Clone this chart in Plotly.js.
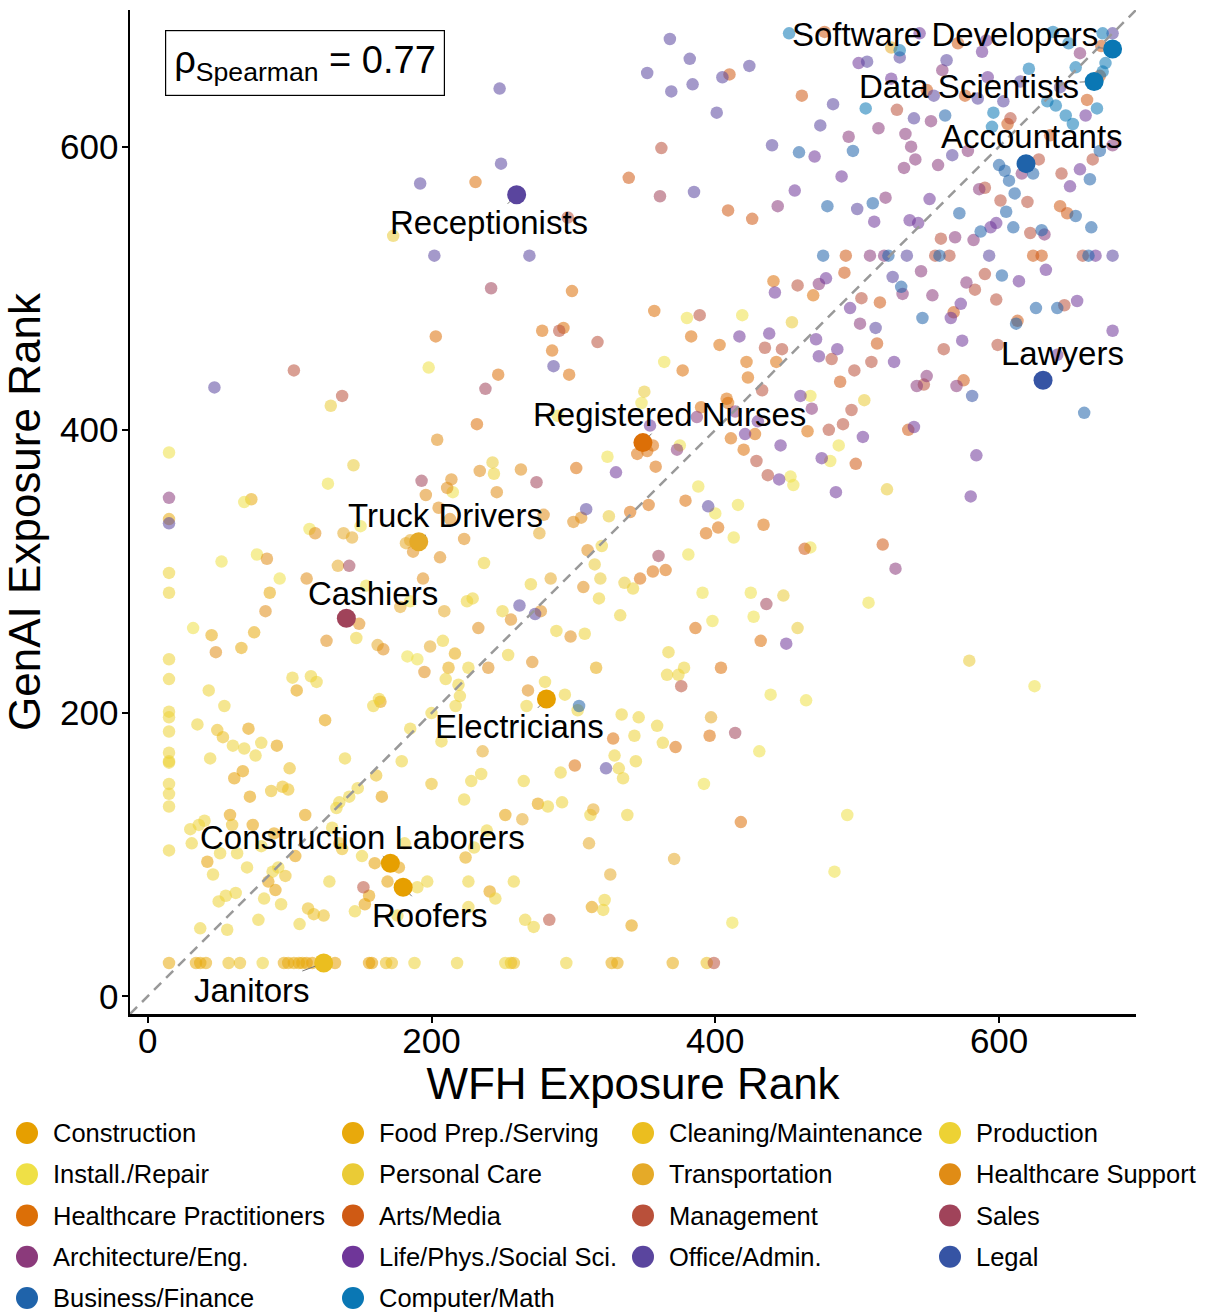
<!DOCTYPE html>
<html><head><meta charset="utf-8">
<script src="https://cdn.plot.ly/plotly-3.0.1.min.js"></script>
<style>html,body{margin:0;padding:0;background:#fff;} #chart{width:1207px;height:1313px;}</style>
</head><body><div id="chart"></div>
<script>
// ---------- categories (legend order) ----------
const categories = ["Construction","Food Prep./Serving","Cleaning/Maintenance","Production",
  "Install./Repair","Personal Care","Transportation","Healthcare Support",
  "Healthcare Practitioners","Arts/Media","Management","Sales",
  "Architecture/Eng.","Life/Phys./Social Sci.","Office/Admin.","Legal",
  "Business/Finance","Computer/Math"];
const categoryColors = ["#E69F00","#E8A90C","#EBBE1F","#EDD234",
  "#EFE046","#EACB36","#E5AA28","#E08C15",
  "#DC6F07","#CF5A14","#B9503A","#A0435A",
  "#8B3A7B","#6F3699","#5A459E","#3654A4",
  "#1F63AA","#0A77B4"];

// ---------- points per category: [WFH rank, GenAI rank] ----------
const construction = [[105,216],[164,208],[71,189],[125,195],[91,177],[61,154],[67,159],[165,141],[72,141],[111,128],[58,128],[74,121],[89,115],[104,99],[42,95],[85,81],[90,75],[160,94],[177,91],[169,81],[156,71],[153,65],[275,136],[252,128],[241,74],[313,63],[341,50],[112,23.5],[116,23.5],[132,23.5],[156,23.5],[158,23.5]];
const foodPrep = [[15,23.5],[34,23.5],[37,23.5],[41,23.5],[96,23.5],[99,23.5],[103,23.5],[106.5,23.5],[109,23.5],[327,23.5],[331,23.5],[370,23.5],[15,337],[73,351],[86,285],[45,255],[75,257],[66,246],[216.5,242],[212,232],[316,232],[224,98]];
const cleaning = [[57,23.5],[65,23.5],[168,23.5],[172,23.5],[256,23.5],[258,23.5],[394,23.5],[49,188],[53,183],[100,161],[161,156],[200,150],[87,145],[95,148],[99,146],[59.5,121],[135,108],[137,104],[97,85],[113,62],[117,58],[124,57]];
const production = [[244,369],[320,318],[237,306],[342,288],[270,291],[318,281],[229,281],[225,279],[250,272],[288,258],[308,256],[333,269],[367,243],[378,232],[366,227],[374,227],[254,241],[226,232],[280,222],[267,205],[294,213],[303,202],[334,199],[346,197],[359,191],[343,184],[363,179],[329,170],[344,166],[332,161],[335,154],[291,158],[265,152],[228,152],[235,157],[223,139],[282,134],[292,137],[312,128],[338,128],[239,117],[230,105],[226,81],[258,81],[245,69],[226,63],[322,68],[321,61],[266,54],[272,49],[252,23.5],[295,23.5],[15,201],[15,197],[15,187],[15,172],[15,166],[15,165],[15,150],[15,143],[15,134],[15,103],[15,224],[15,299],[15,285],[15,238],[43,216],[54,205],[102,225],[115,226],[119,222],[159,205],[163,210],[35,192],[60,177],[68,175],[76,170],[80,179],[44,168],[139,168],[185,189],[207,180],[200,200],[217,205],[220,212],[219,220],[179,166],[148,147],[142,141],[135,137],[133,133],[40,124],[36,121],[30,118],[31,108],[130,119],[51,101],[63,101],[80,106],[70,91],[46,86],[88,88],[92,91],[50,67],[55,71],[62,73],[82,69],[94,65],[37,48],[56,47],[78,54],[107,51],[128,81],[151,99],[190,77],[197,81],[146,60],[176,57],[181,108],[147,253],[208,251],[210,224],[81,23.5],[188,23.5],[218,23.5]];
const installRepair = [[380,479],[419,481],[467,424],[487,389],[481,378],[467,317],[508,278],[625,219],[464,209],[493,128],[484,88],[364,448],[348,419],[289,410],[375,389],[453,367],[455,361],[324,381],[388,360],[400,341],[416,347],[413,324],[381,312],[391,285],[398,265],[425,285],[427,268],[439,213],[431,173],[392,150],[412,52],[15,384],[198,444],[127,362],[215,356],[68,349],[114,330],[150,332],[52,307],[77,312],[93,295],[154,290],[185,279],[32,260],[183,240],[190,238]];
const personalCare = [[173,537],[454,476],[505,421],[521,358],[458,260],[579,237],[350,427],[243,377],[325,339],[315,305],[336,292],[319,295],[448,283],[129,417],[145,375]];
const transportation = [[524,670],[276,327],[284,295],[397,197],[236,173],[314,132],[264,125],[311,108],[371,97],[326,86],[138,327],[144,324],[182,320],[185,322],[134,304],[178,275],[209,272],[162,248],[199,247]];
const healthcareSupport = [[234,371],[263,372],[246,356],[300,335],[305.5,338],[279,340],[223,323],[310,315],[307,289],[204,393],[214,365],[211,359],[196,354],[205,345],[213,337],[187,314],[206,310],[194,295],[277,272],[256,266],[233,260],[298,254],[271,236],[240,232],[268,216],[118,327],[84,309],[83,272],[112,295],[149,263],[126,251],[48,243],[166,245],[195,229]];
const healthcarePract = [[203,466],[231,575],[299,498],[357,484],[441,505],[278,470],[293,472],[383,466],[403,460],[285,456],[469,495],[465,399],[297,439],[247,439],[232,404],[377,442],[422,448],[443,448],[423,437],[408,422],[409,419],[390,416],[345,383],[352,385],[356,389],[428,397],[411,394],[420,386],[358,374],[302,373],[379,350],[353,347],[340,342],[393.5,327],[402,331],[434,333],[356,300],[365,301],[347,295],[386,260],[432,251],[404,232],[328,182],[372,176],[396,184],[301,163],[418,123]];
const artsMedia = [[410,651],[461,636],[477,681],[571,673],[672,671],[671,650],[549,640],[576,636],[662,633],[606,616],[636,608],[643,558],[648,553],[492,523],[624,523],[630,523],[491,511],[516,490],[568,483],[613,477],[514,461],[339,578],[409,555],[426,549],[488,434],[575,435],[536,400],[499,376],[518,319],[463,316]];
const management = [[362,599],[296,550],[389,481],[458,502],[290,470],[317,462],[435,458],[447,457],[528,626],[608,620],[628,591],[666,591],[644,581],[590,571],[601,562],[620,561],[559,535],[622,539],[555,523],[565,523],[659,523],[590,510],[583,499],[503,493],[598,492],[646,488],[599,460],[561,457],[482,450],[510,448],[498,442],[547,432],[496,414],[490,404],[480,400],[433,428],[429,378],[437,368],[376,219],[283,54],[399,23.5],[152,77],[103,442],[137,424]];
const sales = [[361,565],[242,500],[238,429],[274,363],[360,311],[436,277],[414,186],[193,364],[142,304]];
const archEng = [[444,558],[657,666],[560,654],[552,618],[494,607],[515,613],[534,609],[538,600],[541,591],[533,585],[557,587],[578,597],[616,581],[680,601],[586,570],[520,564],[569,536],[582,534],[632,538],[509,523],[519,523],[545,512],[473,503],[532,496],[577,504],[553,495],[502,475],[549,438],[542,431],[570,431],[468,415],[527,302],[387,409],[414,413],[373,386],[15,352]];
const lifeSci = [[456,569],[442,497],[417,466],[438,468],[544,680],[591,675],[501,659],[588,667],[524,648],[592,649],[661,622],[470,593],[657,584],[650,572],[489,579],[551,563],[512,547],[537,548],[543,546],[594,543],[598,546],[668,523],[633,513],[614,505],[478,507],[495,486],[573,489],[655,491],[566,479],[680,470],[471,464],[574,463],[486,457],[473,452],[526,448],[641,453],[460,424],[540,402],[504,395],[475,380],[584,382],[485,356],[580,353],[354,403],[421,397],[430,406],[446,389],[445,365],[330,370],[450,249]];
const officeAdmin = [[192,574],[202,523],[248,641],[368,676],[382,662],[352,652],[369,639],[384,644],[405,649],[424,657],[401,624],[440,601],[249,588],[385,568],[269,523],[680,680],[507,660],[530,663],[563,661],[615,646],[643,642],[554,636],[585,634],[603,632],[483,630],[540,620],[474,615],[567,594],[500,556],[535,523],[593,523],[680,523],[525,508],[513,472],[286,445],[309,344],[395,346],[262,276],[273,270],[323,161],[47,430],[15,334]];
const legal = [[581,424]];
const businessFinance = [[459,596],[562,622],[497,597],[600,587],[604,583],[607,576],[624,581],[671,597],[664,577],[611,567],[479,558],[511,560],[572,553],[605,554],[654,551],[610,543],[665,543],[587,540],[630,541],[476,523],[522,523],[558,523],[663,523],[602,509],[531,501],[546,479],[626,486],[641,486],[612,475],[660,412],[304,205]];
const computerMath = [[452,680],[530,668],[638,681],[649,673],[673,680],[654,656],[675,659],[673,653],[621,655],[506,627],[596,624],[634,632],[640,629],[647,622],[652,616],[669,627],[595,614]];

// ---------- labelled occupations ----------
const labelNames = ["Software Developers","Data Scientists","Accountants","Receptionists","Lawyers","Registered Nurses","Truck Drivers","Cashiers","Electricians","Construction Laborers","Roofers","Janitors"];
const labelWfh = [680,667,619,260,631,349,191,140,281,171,180,124];
const labelGenai = [669,646,588,566,435,391,321,267,210,94,77,23.5];
const labelCategory = ["Computer/Math","Computer/Math","Business/Finance","Office/Admin.","Legal","Healthcare Practitioners","Transportation","Sales","Construction","Construction","Construction","Cleaning/Maintenance"];
// label text offsets (px) relative to point
const labelDx = [-168,-125,6,-28,19,27,27,27,-27,-28,27,-72];
const labelDy = [-14,5,-27,28,-27,-28,-26,-25,28,-26,28,27];

const spearmanText = "ρ<sub>Spearman</sub> = 0.77";

const pointsByCategory = [construction, foodPrep, cleaning, production, installRepair, personalCare,
  transportation, healthcareSupport, healthcarePract, artsMedia, management, sales,
  archEng, lifeSci, officeAdmin, legal, businessFinance, computerMath];

const FONT = "Liberation Sans, Arial, Helvetica, sans-serif";
const W = 1207, H = 1313;
const axisRange = [-12.5, 696.5];

const traces = [];
categories.forEach((cat, i) => {
  const pts = pointsByCategory[i];
  traces.push({
    type: "scatter", mode: "markers", name: cat, showlegend: false,
    x: pts.map(p => p[0]), y: pts.map(p => p[1]),
    marker: {size: 12.5, color: categoryColors[i], opacity: 0.55, line: {width: 0}},
    hoverinfo: "skip", cliponaxis: false
  });
});
// highlighted points
traces.push({
  type: "scatter", mode: "markers", showlegend: false,
  x: labelWfh, y: labelGenai, text: labelNames,
  marker: {size: 19, color: labelCategory.map(c => categoryColors[categories.indexOf(c)]), opacity: 1, line: {width: 0}},
  hoverinfo: "skip", cliponaxis: false
});
// legend markers (drawn on an overlay axis in page pixels)
const legendColX = [27, 353, 643, 950];
const legendRowY0 = 1133, legendRowStep = 41.25;
traces.push({
  type: "scatter", mode: "markers", showlegend: false, xaxis: "x2", yaxis: "y2",
  x: categories.map((c, i) => legendColX[i % 4]),
  y: categories.map((c, i) => legendRowY0 + legendRowStep * Math.floor(i / 4)),
  marker: {size: 22, color: categoryColors, opacity: 1, line: {width: 0}},
  hoverinfo: "skip", cliponaxis: false
});

const annotations = [];
labelNames.forEach((n, i) => {
  annotations.push({
    x: labelWfh[i], y: labelGenai[i], xref: "x", yref: "y", text: n,
    showarrow: true, arrowhead: 0, arrowwidth: 1, arrowcolor: "#777777",
    ax: labelDx[i], ay: labelDy[i], standoff: 9,
    font: {family: FONT, size: 33, color: "#000000"}, borderpad: 0
  });
});
annotations.push({
  x: 111, y: 659, xref: "x", yref: "y", text: spearmanText, showarrow: false,
  font: {family: FONT, size: 38, color: "#000000"},
  bordercolor: "#000000", borderwidth: 1.2, borderpad: 8, bgcolor: "#ffffff"
});
categories.forEach((c, i) => {
  annotations.push({
    xref: "paper", yref: "paper",
    x: (legendColX[i % 4] + 24) / W,
    y: 1 - (legendRowY0 + legendRowStep * Math.floor(i / 4)) / H,
    xanchor: "left", yanchor: "middle", showarrow: false, text: c,
    font: {family: FONT, size: 25.5, color: "#000000"}
  });
});

const layout = {
  width: W, height: H,
  margin: {l: 0, r: 0, t: 0, b: 0},
  paper_bgcolor: "#ffffff", plot_bgcolor: "#ffffff",
  font: {family: FONT, color: "#000000"},
  showlegend: false,
  xaxis: {
    domain: [130 / W, 1136 / W], range: axisRange, autorange: false,
    showgrid: false, zeroline: false, showline: true, linecolor: "#000000", linewidth: 2.5,
    ticks: "outside", ticklen: 6, tickwidth: 2, tickcolor: "#000000",
    tickvals: [0, 200, 400, 600], tickfont: {family: FONT, size: 35, color: "#000000"},
    ticklabelstandoff: -12,
    title: {text: "WFH Exposure Rank", font: {family: FONT, size: 44, color: "#000000"}, standoff: 2},
    automargin: false, anchor: "y"
  },
  yaxis: {
    domain: [1 - 1014 / H, 1 - 10 / H], range: axisRange, autorange: false,
    showgrid: false, zeroline: false, showline: true, linecolor: "#000000", linewidth: 2.5,
    ticks: "outside", ticklen: 6, tickwidth: 2, tickcolor: "#000000",
    tickvals: [0, 200, 400, 600], tickfont: {family: FONT, size: 35, color: "#000000"},
    ticklabelstandoff: -4,
    title: {text: "GenAI Exposure Rank", font: {family: FONT, size: 44, color: "#000000"}, standoff: 12},
    automargin: false, anchor: "x"
  },
  xaxis2: {domain: [0, 1], range: [0, W], visible: false, fixedrange: true, anchor: "y2"},
  yaxis2: {domain: [0, 1 - 1105 / H], range: [H, 1105], visible: false, fixedrange: true, anchor: "x2"},
  shapes: [{
    type: "line", xref: "x", yref: "y",
    x0: axisRange[0], y0: axisRange[0], x1: axisRange[1], y1: axisRange[1],
    line: {color: "#999999", width: 2.5, dash: "10px,7px"}, layer: "above"
  }],
  annotations: annotations
};

Plotly.newPlot("chart", traces, layout, {displayModeBar: false, staticPlot: true});
</script></body></html>
